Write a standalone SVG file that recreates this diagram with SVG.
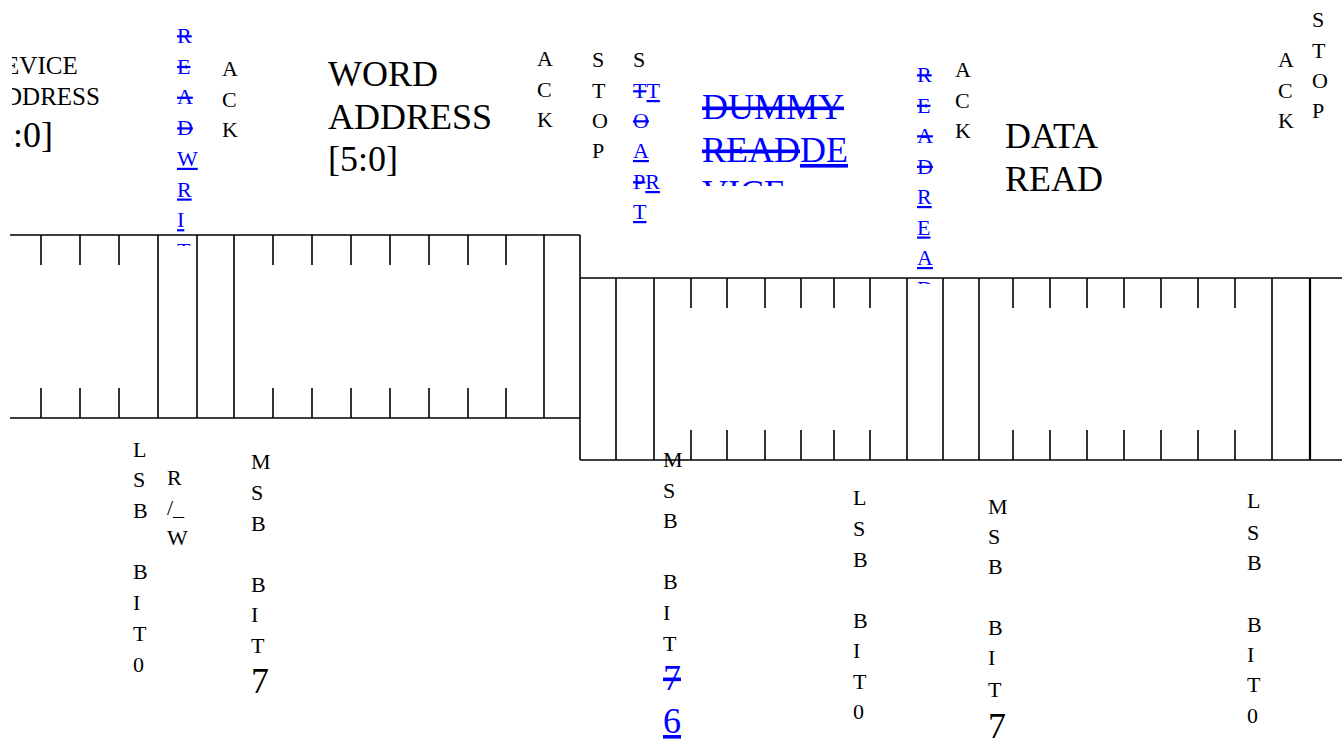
<svg xmlns="http://www.w3.org/2000/svg" width="1342" height="745" viewBox="0 0 1342 745">
<style>
text{font-family:'Liberation Serif','Times New Roman',Times,serif;fill:#000}
.s22{font-size:22px}
.s25{font-size:25px}
.s36{font-size:36px}
.b{fill:#0000FF}
.del{text-decoration:line-through}
.ins{text-decoration:underline}
.ln{stroke:#000;stroke-width:1.6;fill:none}
</style>
<defs>
<clipPath id="c0"><rect x="12" y="0" width="200" height="200"/></clipPath>
<clipPath id="c1"><rect x="0" y="0" width="260" height="246"/></clipPath>
<clipPath id="c2"><rect x="680" y="0" width="260" height="186"/></clipPath>
<clipPath id="c3"><rect x="880" y="0" width="80" height="284"/></clipPath>
</defs>
<rect width="1342" height="745" fill="#fff"/>
<g id="frames">
<path class="ln" d="M10 235H580M10 418H580M580 235V460
M41 235V265M80 235V265M119 235V265M273 235V265M312 235V265M351 235V265M390 235V265M429 235V265M468 235V265M506 235V265
M41 388V418M80 388V418M119 388V418M273 388V418M312 388V418M351 388V418M390 388V418M429 388V418M468 388V418M506 388V418
M158 235V418M197 235V418M234 235V418M544 235V418"/>
<path class="ln" d="M580 278H1342M580 460H1342
M616 278V460M654 278V460M907 278V460M943 278V460M979 278V460M1272 278V460
M691 278V308M727 278V308M765 278V308M801 278V308M834 278V308M870 278V308M1013 278V308M1050 278V308M1087 278V308M1124 278V308M1161 278V308M1198 278V308M1235 278V308
M691 430V460M727 430V460M765 430V460M801 430V460M834 430V460M870 430V460M1013 430V460M1050 430V460M1087 430V460M1124 430V460M1161 430V460M1198 430V460M1235 430V460"/>
<path d="M1310 278V460" stroke="#000" stroke-width="2.2"/>
</g>
<g font-family="'Liberation Serif', serif">
<g id="device-address" clip-path="url(#c0)">
<text class="s25" x="-14" y="74">DEVICE</text>
<text class="s25" x="-14" y="105">ADDRESS</text>
<text class="s36" x="-17" y="147">[6:0]</text>
</g>
<g id="read-write" clip-path="url(#c1)">
<text class="s22 b">
<tspan class="del" x="177" y="43">R</tspan><tspan class="del" x="177" y="73.7">E</tspan><tspan class="del" x="177" y="104.4">A</tspan><tspan class="del" x="177" y="135.1">D</tspan><tspan class="ins" x="177" y="165.8">W</tspan><tspan class="ins" x="177" y="196.5">R</tspan><tspan class="ins" x="177" y="227.2">I</tspan><tspan class="ins" x="177" y="257.9">T</tspan><tspan class="ins" x="177" y="288.6">E</tspan>
</text>
</g>
<g id="ack1">
<text class="s22"><tspan x="222" y="76">A</tspan><tspan x="222" y="107">C</tspan><tspan x="222" y="137">K</tspan></text>
</g>
<g id="word-address">
<text class="s36" x="328" y="86">WORD</text>
<text class="s36" x="328" y="129">ADDRESS</text>
<text class="s36" x="328" y="171">[5:0]</text>
</g>
<g id="ack2">
<text class="s22"><tspan x="537" y="66">A</tspan><tspan x="537" y="97">C</tspan><tspan x="537" y="127">K</tspan></text>
</g>
<g id="stop1">
<text class="s22"><tspan x="592" y="67">S</tspan><tspan x="592" y="98">T</tspan><tspan x="592" y="128">O</tspan><tspan x="592" y="158">P</tspan></text>
</g>
<g id="start">
<text class="s22"><tspan x="633" y="67">S</tspan></text>
<text class="s22 b"><tspan class="del" x="633" y="98">T</tspan><tspan class="ins">T</tspan></text>
<text class="s22 b"><tspan class="del" x="633" y="128">O</tspan></text>
<text class="s22 b"><tspan class="ins" x="633" y="158">A</tspan></text>
<text class="s22 b"><tspan class="del" x="633" y="189">P</tspan><tspan class="ins">R</tspan></text>
<text class="s22 b"><tspan class="ins" x="633" y="219">T</tspan></text>
</g>
<g id="dummy-read" clip-path="url(#c2)">
<text class="s36 b"><tspan class="del" x="702" y="119">DUMMY</tspan></text>
<text class="s36 b"><tspan class="del" x="702" y="162">READ</tspan><tspan class="ins">DE</tspan></text>
<text class="s36 b"><tspan class="ins" x="702" y="205">VICE</tspan></text>
</g>
<g id="read-read" clip-path="url(#c3)">
<text class="s22 b">
<tspan class="del" x="917" y="82">R</tspan><tspan class="del" x="917" y="112.5">E</tspan><tspan class="del" x="917" y="143">A</tspan><tspan class="del" x="917" y="173.5">D</tspan><tspan class="ins" x="917" y="204">R</tspan><tspan class="ins" x="917" y="234.5">E</tspan><tspan class="ins" x="917" y="265">A</tspan><tspan class="ins" x="917" y="295.5">D</tspan>
</text>
</g>
<g id="ack3">
<text class="s22"><tspan x="955" y="77">A</tspan><tspan x="955" y="108">C</tspan><tspan x="955" y="138">K</tspan></text>
</g>
<g id="data-read">
<text class="s36" x="1005" y="148">DATA</text>
<text class="s36" x="1005" y="191">READ</text>
</g>
<g id="ack4">
<text class="s22"><tspan x="1278" y="67">A</tspan><tspan x="1278" y="98">C</tspan><tspan x="1278" y="128">K</tspan></text>
</g>
<g id="stop2">
<text class="s22"><tspan x="1312" y="27">S</tspan><tspan x="1312" y="58">T</tspan><tspan x="1312" y="88">O</tspan><tspan x="1312" y="118">P</tspan></text>
</g>
<g id="lsb1">
<text class="s22"><tspan x="133" y="457">L</tspan><tspan x="133" y="487">S</tspan><tspan x="133" y="518">B</tspan><tspan x="133" y="579">B</tspan><tspan x="133" y="610">I</tspan><tspan x="133" y="641">T</tspan><tspan x="133" y="672">0</tspan></text>
</g>
<g id="rw">
<text class="s22"><tspan x="167" y="485">R</tspan><tspan x="167" y="515">/_</tspan><tspan x="167" y="545">W</tspan></text>
</g>
<g id="msb1">
<text class="s22"><tspan x="251" y="469">M</tspan><tspan x="251" y="500">S</tspan><tspan x="251" y="531">B</tspan><tspan x="251" y="592">B</tspan><tspan x="251" y="622">I</tspan><tspan x="251" y="653">T</tspan></text>
<text class="s36" x="251" y="693">7</text>
</g>
<g id="msb2">
<text class="s22"><tspan x="663" y="467">M</tspan><tspan x="663" y="498">S</tspan><tspan x="663" y="528">B</tspan><tspan x="663" y="589">B</tspan><tspan x="663" y="620">I</tspan><tspan x="663" y="651">T</tspan></text>
<text class="s36 b"><tspan class="del" x="663" y="690">7</tspan></text>
<text class="s36 b"><tspan class="ins" x="663" y="733">6</tspan></text>
</g>
<g id="lsb2">
<text class="s22"><tspan x="853" y="505">L</tspan><tspan x="853" y="536">S</tspan><tspan x="853" y="567">B</tspan><tspan x="853" y="628">B</tspan><tspan x="853" y="658">I</tspan><tspan x="853" y="689">T</tspan><tspan x="853" y="719">0</tspan></text>
</g>
<g id="msb3">
<text class="s22"><tspan x="988" y="514">M</tspan><tspan x="988" y="544">S</tspan><tspan x="988" y="574">B</tspan><tspan x="988" y="635">B</tspan><tspan x="988" y="665">I</tspan><tspan x="988" y="697">T</tspan></text>
<text class="s36" x="988" y="738">7</text>
</g>
<g id="lsb3">
<text class="s22"><tspan x="1247" y="508">L</tspan><tspan x="1247" y="540">S</tspan><tspan x="1247" y="570">B</tspan><tspan x="1247" y="632">B</tspan><tspan x="1247" y="662">I</tspan><tspan x="1247" y="692">T</tspan><tspan x="1247" y="723">0</tspan></text>
</g>
</g>
</svg>
